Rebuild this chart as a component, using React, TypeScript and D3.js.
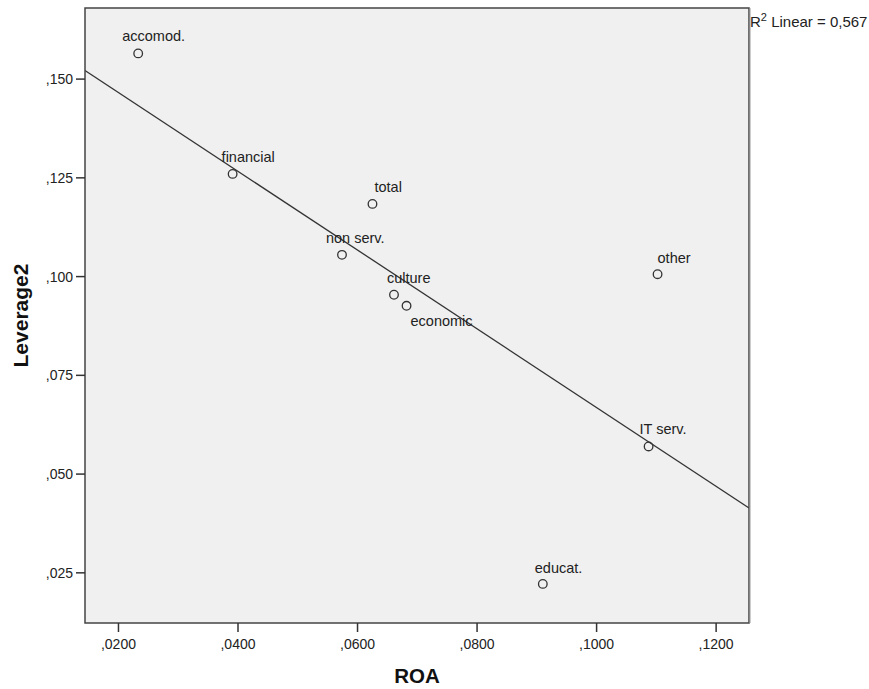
import * as d3 from "d3";

const sectors = ["accomod.", "financial", "total", "non serv.", "culture", "economic", "other", "IT serv.", "educat."];
const roa = [0.0233, 0.0391, 0.0625, 0.0574, 0.0661, 0.0682, 0.1102, 0.1087, 0.0910];
const leverage = [0.1565, 0.126, 0.1184, 0.1055, 0.0954, 0.0926, 0.1006, 0.057, 0.0222];
const xTicks = [0.02, 0.04, 0.06, 0.08, 0.1, 0.12];
const yTicks = [0.025, 0.05, 0.075, 0.1, 0.125, 0.15];

// where each point label sits relative to its marker
const labelOffsets = [
  [-16, -12], [-11, -12], [2, -12], [-16, -12], [-7, -12],
  [4, 20], [0, -11], [-9, -12], [-8, -11],
];

const width = 869;
const height = 689;
const plot = { left: 85, right: 749, top: 8, bottom: 623 };
const font = "Arial, 'Liberation Sans', sans-serif";

const fmt = (digits: number) => (v: number) =>
  d3.format(`.${digits}f`)(v).replace(/^0/, "").replace(".", ",");

export default function App() {
  const x = d3.scaleLinear().domain([0.0144, 0.1255]).range([plot.left, plot.right]);
  const y = d3.scaleLinear().domain([0.0123, 0.168]).range([plot.bottom, plot.top]);

  // least squares fit
  const mx = d3.mean(roa)!;
  const my = d3.mean(leverage)!;
  const sxy = d3.sum(roa, (v, i) => (v - mx) * (leverage[i] - my));
  const sxx = d3.sum(roa, (v) => (v - mx) ** 2);
  const slope = sxy / sxx;
  const intercept = my - slope * mx;
  const [x0, x1] = x.domain();
  const fitLine = d3.line<number>()
    .x((d) => x(d))
    .y((d) => y(intercept + slope * d))([x0, x1]);

  return (
    <svg
      width={width}
      height={height}
      style={{ position: "absolute", left: 0, top: 0, background: "#fff" }}
      fontFamily={font}
    >
      <defs>
        <clipPath id="plot-clip">
          <rect x={plot.left} y={plot.top} width={plot.right - plot.left} height={plot.bottom - plot.top} />
        </clipPath>
      </defs>

      <rect
        x={plot.left}
        y={plot.top}
        width={plot.right - plot.left}
        height={plot.bottom - plot.top}
        fill="#f0f0f0"
      />

      <path d={fitLine ?? ""} stroke="#333" strokeWidth={1.3} fill="none" clipPath="url(#plot-clip)" />

      {sectors.map((name, i) => (
        <g key={name}>
          <circle cx={x(roa[i])} cy={y(leverage[i])} r={4.3} fill="none" stroke="#333" strokeWidth={1.3} />
          <text
            x={x(roa[i]) + labelOffsets[i][0]}
            y={y(leverage[i]) + labelOffsets[i][1]}
            fontSize={14.5}
            fill="#222"
          >
            {name}
          </text>
        </g>
      ))}

      <rect
        x={plot.left}
        y={plot.top}
        width={plot.right - plot.left}
        height={plot.bottom - plot.top}
        fill="none"
        stroke="#444"
        strokeWidth={1.5}
      />
      <line x1={plot.right + 1} x2={plot.right + 1} y1={plot.top} y2={plot.bottom} stroke="#999" strokeWidth={1} />

      {yTicks.map((t) => (
        <g key={t}>
          <line x1={plot.left - 9} x2={plot.left} y1={y(t)} y2={y(t)} stroke="#333" strokeWidth={1.5} />
          <text x={plot.left - 12} y={y(t) + 5} textAnchor="end" fontSize={14} fill="#222">
            {fmt(3)(t)}
          </text>
        </g>
      ))}

      {xTicks.map((t) => (
        <g key={t}>
          <line x1={x(t)} x2={x(t)} y1={plot.bottom} y2={plot.bottom + 9} stroke="#333" strokeWidth={1.5} />
          <text x={x(t)} y={plot.bottom + 26} textAnchor="middle" fontSize={14} fill="#222">
            {fmt(4)(t)}
          </text>
        </g>
      ))}

      <text
        x={(plot.left + plot.right) / 2}
        y={683}
        textAnchor="middle"
        fontSize={20.5}
        fontWeight="bold"
        fill="#111"
      >
        ROA
      </text>
      <text
        transform={`translate(28, ${(plot.top + plot.bottom) / 2}) rotate(-90)`}
        textAnchor="middle"
        fontSize={21}
        fontWeight="bold"
        fill="#111"
      >
        Leverage2
      </text>

      <text x={plot.right + 1} y={27} fontSize={15} fill="#222">
        R<tspan fontSize={11} dy={-6}>2</tspan>
        <tspan dy={6}> Linear = 0,567</tspan>
      </text>
    </svg>
  );
}
